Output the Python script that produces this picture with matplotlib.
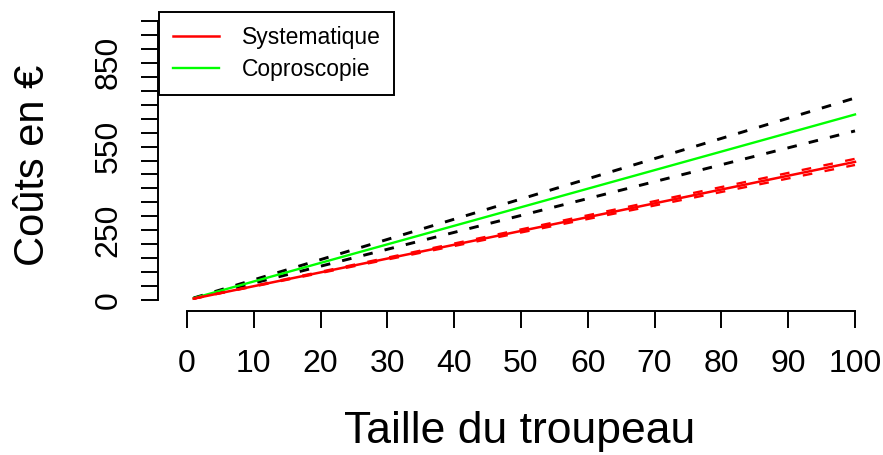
import matplotlib
matplotlib.use("Agg")
import matplotlib.pyplot as plt

plt.rcParams["font.family"] = ["Liberation Sans", "DejaVu Sans"]

# Herd size (number of animals) and cost in euros, with confidence bounds
herd_size = [1, 100]
systematique = [4.95, 495]
systematique_low = [4.84, 484]
systematique_high = [5.06, 506]
coproscopie = [6.65, 665]
coproscopie_low = [6.06, 606]
coproscopie_high = [7.24, 724]

series_names = ["Systematique", "Coproscopie"]
x_ticks = [0, 10, 20, 30, 40, 50, 60, 70, 80, 90, 100]
y_ticks = list(range(0, 1001, 50))
y_labelled = [0, 250, 550, 850]

W, H = 883, 455
fig = plt.figure(figsize=(W / 100, H / 100), dpi=100)
ax = fig.add_axes([187 / W, 1 - 300 / H, (855 - 187) / W, (300 - 21) / H])
ax.set_xlim(0, 100)
ax.set_ylim(0, 1000)
ax.patch.set_visible(False)

dash = (0, (3.3, 4.2))
ax.plot(herd_size, coproscopie_high, color="black", lw=2.1, linestyle=dash, clip_on=False)
ax.plot(herd_size, coproscopie_low, color="black", lw=2.1, linestyle=dash, clip_on=False)
green, = ax.plot(herd_size, coproscopie, color="#00FF00", lw=1.7, clip_on=False)
red, = ax.plot(herd_size, systematique, color="#FF0000", lw=1.8, clip_on=False)
ax.plot(herd_size, systematique_high, color="#FF0000", lw=1.7,
        linestyle=(0, (4.1, 5.3)), clip_on=False)
ax.plot(herd_size, systematique_low, color="#FF0000", lw=1.7,
        linestyle=(0, (4.1, 5.3)), clip_on=False)

# R-style detached axes
for side in ("top", "right"):
    ax.spines[side].set_visible(False)
ax.spines["left"].set_position(("outward", 20.9))
ax.spines["bottom"].set_position(("outward", 8.0))
ax.spines["left"].set_bounds(0, 1000)
ax.spines["bottom"].set_bounds(0, 100)
for side in ("left", "bottom"):
    ax.spines[side].set_linewidth(1.4)

ax.set_xticks(x_ticks)
ax.set_yticks(y_ticks, labels=[str(v) if v in y_labelled else "" for v in y_ticks])
ax.tick_params(length=12.5, width=1.4, labelsize=23, direction="out")
ax.tick_params(axis="x", pad=15)
ax.tick_params(axis="y", pad=12.5)
for lbl in ax.get_yticklabels():
    lbl.set_rotation(90)
    lbl.set_va("center")

ax.set_xlabel("Taille du troupeau", fontsize=32, va="baseline")
ax.xaxis.set_label_coords(520 / W, 1 - 443 / H, transform=fig.transFigure)
ax.set_ylabel("Coûts en €", fontsize=30, va="center")
ax.yaxis.set_label_coords(33 / W, 1 - 165 / H, transform=fig.transFigure)

leg = ax.legend([red, green], series_names, loc="upper left",
                bbox_to_anchor=(159 / W, 1 - 12 / H), bbox_transform=fig.transFigure,
                borderaxespad=0, fontsize=16.5, frameon=True, fancybox=False,
                framealpha=1, edgecolor="black", handlelength=2.0,
                handletextpad=1.0, borderpad=0.6, labelspacing=0.4)
leg.get_frame().set_linewidth(1.4)

fig.savefig("out.png", dpi=100)
